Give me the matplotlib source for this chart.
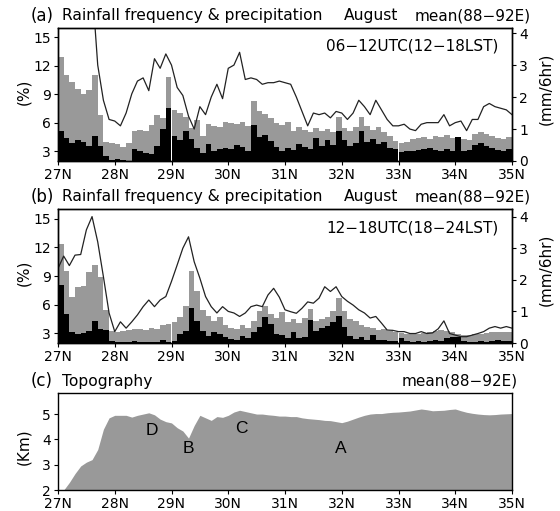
import numpy as np
import matplotlib
matplotlib.use("Agg")
import matplotlib.pyplot as plt

# latitude of bar edges (0.1 deg bins) and line points
lat_bins = np.round(np.arange(27.0, 35.0, 0.1), 1)
lat_pts = np.round(np.linspace(27.0, 35.0, 81), 1)

# (a) 06-12UTC
freq_all_a = [12.9, 11.0, 10.3, 9.6, 9.0, 9.5, 11.0, 6.8, 4.0, 3.9,
              3.8, 3.5, 3.9, 5.2, 5.3, 5.2, 5.8, 6.8, 6.5, 10.8,
              7.4, 7.0, 6.6, 5.5, 6.3, 4.6, 5.9, 5.7, 5.6, 6.1,
              6.0, 5.9, 6.1, 5.7, 8.3, 7.2, 6.9, 6.5, 6.0, 5.8,
              6.1, 5.1, 5.6, 5.3, 5.0, 5.5, 5.2, 5.4, 5.0, 6.6,
              5.5, 5.2, 5.6, 6.6, 5.7, 5.3, 5.6, 5.0, 4.6, 4.1,
              3.9, 4.0, 4.3, 4.4, 4.5, 4.3, 4.6, 4.5, 4.7, 4.4,
              4.1, 4.3, 4.2, 4.8, 5.0, 4.8, 4.6, 4.4, 4.3, 4.5]
freq_heavy_a = [5.2, 4.4, 3.9, 4.2, 4.0, 3.6, 4.6, 3.6, 2.5, 2.1,
                2.2, 2.1, 2.0, 3.3, 3.0, 2.8, 2.7, 3.6, 5.4, 7.6,
                4.6, 4.2, 5.2, 4.3, 3.4, 2.8, 3.8, 3.0, 3.3, 3.4,
                3.3, 3.7, 3.5, 3.1, 5.8, 4.5, 4.7, 4.1, 3.5, 3.0,
                3.4, 3.2, 3.8, 3.5, 3.3, 4.4, 3.6, 4.2, 3.7, 5.1,
                4.2, 3.6, 3.9, 5.1, 4.0, 4.3, 3.8, 4.0, 3.4, 3.3,
                2.9, 3.1, 3.0, 3.2, 3.3, 3.4, 3.2, 3.1, 3.3, 3.0,
                4.5, 3.0, 3.2, 3.7, 3.9, 3.6, 3.4, 3.2, 3.1, 3.3]
precip_a = [6.5, 6.5, 6.5, 6.5, 6.5, 6.5, 5.5, 3.0, 1.9, 1.3,
            1.25, 1.1, 1.5, 2.1, 2.5, 2.6, 2.2, 3.2, 2.9, 3.35,
            3.0, 2.3, 2.05, 1.4, 1.0, 1.7, 1.45, 2.0, 2.4, 1.95,
            2.9, 3.0, 3.4, 2.55, 2.6, 2.55, 2.4, 2.45, 2.45, 2.5,
            2.45, 2.4, 2.0, 1.55, 1.1, 1.5, 1.45, 1.5, 1.35, 1.55,
            1.5, 1.3, 1.5, 1.9, 1.7, 1.45, 1.9, 1.6, 1.3, 1.1,
            1.1, 1.15, 1.0, 0.95, 1.15, 1.2, 1.2, 1.2, 1.45, 1.1,
            1.2, 1.25, 0.95, 1.3, 1.3, 1.7, 1.8, 1.7, 1.65, 1.6,
            1.45]

# (b) 12-18UTC
freq_all_b = [12.3, 9.5, 6.8, 7.8, 8.0, 9.4, 10.2, 8.9, 5.5, 3.3,
              3.2, 3.3, 3.4, 3.5, 3.5, 3.4, 3.6, 3.5, 3.9, 4.0,
              4.2, 4.7, 5.9, 9.5, 7.4, 5.5, 4.8, 4.3, 4.7, 3.9,
              3.6, 3.5, 3.9, 3.6, 4.3, 5.35, 5.9, 5.0, 4.6, 5.2,
              4.2, 4.5, 4.1, 4.6, 5.6, 4.3, 4.5, 4.7, 5.3, 6.7,
              5.3, 4.5, 4.3, 3.9, 3.7, 3.6, 3.4, 3.5, 3.3, 3.2,
              3.0, 2.9, 3.0, 2.9, 3.0, 3.1, 3.3, 3.4, 3.3, 3.2,
              2.9, 2.8, 2.8, 2.9, 2.9, 3.0, 3.1, 3.2, 3.1, 3.1]
freq_heavy_b = [8.1, 5.0, 3.1, 2.9, 3.0, 3.3, 4.3, 3.5, 3.4, 2.2,
                2.1, 2.15, 2.1, 2.25, 2.1, 2.1, 2.1, 2.15, 2.3, 2.1,
                2.2, 2.9, 3.3, 5.7, 4.3, 3.3, 2.7, 3.1, 2.9, 2.6,
                2.4, 2.3, 2.7, 2.5, 3.2, 3.65, 4.7, 4.0, 2.9, 2.8,
                2.5, 3.1, 2.5, 2.6, 4.4, 3.3, 3.6, 3.8, 4.2, 4.8,
                3.7, 2.7, 2.4, 2.6, 2.3, 2.8, 2.3, 2.3, 2.2, 2.2,
                2.5, 2.2, 2.1, 2.2, 2.1, 2.2, 2.3, 2.2, 2.5, 2.6,
                2.6, 2.2, 2.1, 2.1, 2.2, 2.1, 2.2, 2.3, 2.2, 2.2]
precip_b = [2.36, 2.75, 2.45, 2.78, 2.8, 3.58, 4.0, 3.2, 2.1, 0.95,
            0.36, 0.67, 0.47, 0.67, 0.89, 1.15, 1.36, 1.15, 1.36, 1.47,
            1.95, 2.47, 3.0, 3.36, 2.57, 2.05, 1.47, 1.15, 0.95, 1.15,
            1.0, 0.95, 0.84, 0.95, 1.15, 1.2, 1.15, 1.52, 1.73, 1.45,
            1.05, 0.99, 0.94, 1.1, 1.3, 1.26, 1.42, 1.78, 1.63, 1.78,
            1.47, 1.32, 1.2, 1.05, 0.95, 0.79, 0.84, 0.63, 0.41, 0.4,
            0.36, 0.36, 0.3, 0.3, 0.36, 0.3, 0.32, 0.45, 0.7, 0.3,
            0.25, 0.2, 0.2, 0.25, 0.3, 0.36, 0.47, 0.52, 0.47, 0.52,
            0.47]

# (c) topography (km)
topo = [2.0, 2.0, 2.3, 2.65, 2.95, 3.1, 3.2, 3.6, 4.4, 4.85,
        4.95, 4.95, 4.95, 4.88, 4.95, 5.0, 5.05, 4.97, 4.8, 4.7,
        4.65, 4.46, 4.33, 4.05, 4.55, 4.95, 4.85, 4.75, 4.9, 4.87,
        4.95, 5.08, 5.15, 5.1, 5.05, 5.0, 5.0, 4.97, 4.95, 4.92,
        4.92, 4.9, 4.9, 4.85, 4.82, 4.8, 4.78, 4.75, 4.74, 4.7,
        4.66, 4.72, 4.8, 4.88, 4.95, 5.0, 5.02, 5.02, 5.05, 5.07,
        5.08, 5.1, 5.12, 5.16, 5.2, 5.17, 5.13, 5.14, 5.15, 5.18,
        5.2, 5.13, 5.07, 5.03, 5.0, 4.98, 4.97, 4.98, 5.0, 5.01,
        5.02]
site_names = ["D", "B", "C", "A"]
site_lat = [28.66, 29.29, 30.24, 31.98]
site_hgt = [4.37, 3.62, 4.41, 3.62]

xticks = [27, 28, 29, 30, 31, 32, 33, 34, 35]
xticklabels = ["27N", "28N", "29N", "30N", "31N", "32N", "33N", "34N", "35N"]

W, H = 560, 511
fig = plt.figure(figsize=(W / 100, H / 100), dpi=100)
GREY = "#999999"


def px(x, y):
    return x / W, 1 - y / H


def rect(top, bottom):
    return [58 / W, 1 - bottom / H, 454 / W, (bottom - top) / H]


def style(ax):
    ax.set_xlim(27, 35)
    ax.set_xticks(xticks)
    ax.set_xticklabels(xticklabels)
    ax.tick_params(direction="out", length=3, width=0.8, labelsize=10, pad=2)
    for s in ax.spines.values():
        s.set_linewidth(1.0)


def rain_panel(top, bottom, tag, period, fall, fheavy, prec, rtop):
    ax = fig.add_axes(rect(top, bottom))
    ax.bar(lat_bins, fall, width=0.1, align="edge", color=GREY, linewidth=0)
    ax.bar(lat_bins, fheavy, width=0.1, align="edge", color="black", linewidth=0)
    ax.set_ylim(2, 16)
    ax.set_yticks([3, 6, 9, 12, 15])
    style(ax)
    ax2 = ax.twinx()
    ax2.plot(lat_pts, prec, color="#222222", lw=0.9)
    ax2.set_ylim(0, rtop)
    ax2.set_yticks([0, 1, 2, 3, 4])
    style(ax2)
    ax.text(0.97, 0.86, period, transform=ax.transAxes, ha="right",
            va="center", fontsize=11)
    ty = top - 12
    fig.text(*px(31, ty), "(" + tag + ")", fontsize=12, va="center")
    fig.text(*px(62, ty), "Rainfall frequency & precipitation",
             fontsize=11.2, va="center")
    fig.text(*px(344, ty), "August", fontsize=11.2, va="center")
    fig.text(*px(531, ty), "mean(88\u221292E)", fontsize=11, va="center",
             ha="right")
    cy = (top + bottom) / 2
    fig.text(*px(24, cy - 3), "(%)", rotation=90, fontsize=11,
             va="center", ha="center")
    fig.text(*px(546, cy - 6), "(mm/6hr)", rotation=90, fontsize=11,
             va="center", ha="center")
    return ax


rain_panel(27.7, 161, "a", "06\u221212UTC(12\u221218LST)",
           freq_all_a, freq_heavy_a, precip_a, 4.17)
rain_panel(209, 343, "b", "12\u221218UTC(18\u221224LST)",
           freq_all_b, freq_heavy_b, precip_b, 4.24)

# (c) topography
axc = fig.add_axes(rect(393.3, 490))
axc.fill_between(lat_pts, 0, topo, color=GREY, linewidth=0)
axc.set_ylim(2, 5.82)
axc.set_yticks([2, 3, 4, 5])
style(axc)
axc.tick_params(axis="y", right=False)
for name, la, h in zip(site_names, site_lat, site_hgt):
    axc.text(la, h, name, fontsize=12.5, ha="center", va="center",
             family="Liberation Sans")
fig.text(*px(31, 381), "(c)", fontsize=12, va="center")
fig.text(*px(62, 381), "Topography", fontsize=11.2, va="center")
fig.text(*px(518, 381), "mean(88\u221292E)", fontsize=11, va="center",
         ha="right")
fig.text(*px(24, 447), "(Km)", rotation=90, fontsize=11,
         va="center", ha="center")

fig.savefig("out.png", dpi=100)
